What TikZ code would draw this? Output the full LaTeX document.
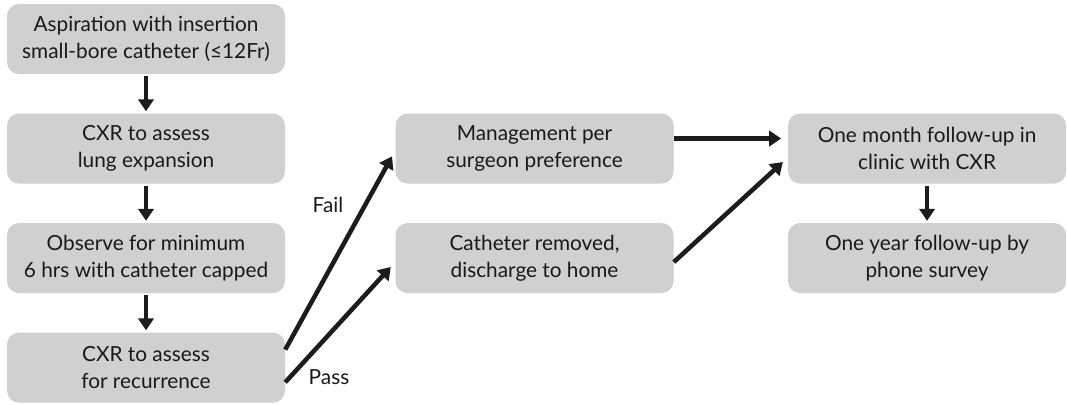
\documentclass[tikz,border=0pt]{standalone}
\usepackage{fontspec}
\setmainfont{Lato}
\usepackage{tikz}
\usetikzlibrary{positioning,arrows.meta,shapes}
\definecolor{BOX_GRAY}{HTML}{D0D0D0}
\definecolor{ARROW_BLACK}{HTML}{1C1C1C}
\tikzstyle{step_box} = [rectangle, rounded corners=9pt, fill=BOX_GRAY, text=black!90, minimum width=208.5pt, minimum height=52.5pt, align=center, font=\fontsize{15.6}{20.25}\selectfont, inner sep=0pt]
\tikzstyle{flow} = [draw=ARROW_BLACK, line width=3.4pt, -{Triangle[length=9pt,width=11.5pt]}]
\tikzstyle{branch} = [font=\fontsize{15.6}{18}\selectfont, text=black!90]

\begin{document}
\begin{tikzpicture}[node distance = 29.25pt and 82.5pt]
      \useasboundingbox (0,0) rectangle (800.25pt,-303pt);

      % left column
      \node[step_box] at (109.5pt,-29.25pt) (ASP) {Aspiration with insertion\\small-bore catheter (≤12Fr)};
      \node[step_box, below= of ASP]  (CXR1) {CXR to assess\\lung expansion};
      \node[step_box, below= of CXR1] (OBS)  {Observe for minimum\\6 hrs with catheter capped};
      \node[step_box, below= of OBS]  (CXR2) {CXR to assess\\for recurrence};

      % middle column
      \node[step_box, right= of CXR1] (MGT) {Management per\\surgeon preference};
      \node[step_box, right= of OBS]  (REM) {Catheter removed,\\discharge to home};

      % right column
      \node[step_box, right= 85.5pt of MGT] (MON) {One month follow-up in\\clinic with CXR};
      \node[step_box, right= 85.5pt of REM] (YR)  {One year follow-up by\\phone survey};

      % arrows
      \draw[flow, shorten >=1.5pt, shorten <=1.5pt] (ASP)  -- (CXR1);
      \draw[flow, shorten >=1.5pt, shorten <=1.5pt] (CXR1) -- (OBS);
      \draw[flow, shorten >=1.5pt, shorten <=1.5pt] (OBS)  -- (CXR2);
      \draw[flow, shorten >=1.5pt, shorten <=1.5pt] (MON)  -- (YR);

      \draw[flow, shorten >=5pt] ([yshift=13.5pt]CXR2.east) -- ([yshift=-1.5pt]MGT.west);
      \draw[flow, shorten >=5pt] ([yshift=-11pt]CXR2.east)  -- ([yshift=-3pt]REM.west);
      \draw[flow, shorten >=5pt] ([yshift=7.5pt]MGT.east)   -- ([yshift=7.5pt]MON.west);
      \draw[flow, shorten >=5pt] ([yshift=-3pt]REM.east)    -- ([yshift=-6.75pt]MON.west);

      \node[branch] at (246pt,-153.75pt)   (FAIL) {Fail};
      \node[branch] at (246.75pt,-282.75pt) (PASS) {Pass};
\end{tikzpicture}
\end{document}
